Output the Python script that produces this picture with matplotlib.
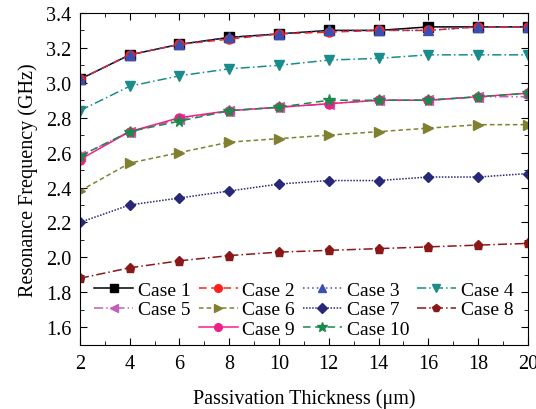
import matplotlib

matplotlib.use("Agg")
import matplotlib.pyplot as plt
from matplotlib.lines import Line2D
from matplotlib.ticker import MultipleLocator

thickness = [2, 4, 6, 8, 10, 12, 14, 16, 18, 20]

case1 = [3.02, 3.16, 3.22, 3.26, 3.28, 3.30, 3.30, 3.32, 3.32, 3.32]
case2 = [3.02, 3.16, 3.22, 3.25, 3.28, 3.29, 3.30, 3.30, 3.32, 3.32]
case3 = [3.02, 3.16, 3.22, 3.26, 3.28, 3.30, 3.30, 3.30, 3.32, 3.32]
case4 = [2.84, 2.98, 3.04, 3.08, 3.10, 3.13, 3.14, 3.16, 3.16, 3.16]
case5 = [2.58, 2.72, 2.79, 2.84, 2.86, 2.88, 2.90, 2.90, 2.92, 2.92]
case6 = [2.38, 2.54, 2.60, 2.66, 2.68, 2.70, 2.72, 2.74, 2.76, 2.76]
case7 = [2.20, 2.30, 2.34, 2.38, 2.42, 2.44, 2.44, 2.46, 2.46, 2.48]
case8 = [1.88, 1.94, 1.98, 2.01, 2.03, 2.04, 2.05, 2.06, 2.07, 2.08]
case9 = [2.56, 2.72, 2.80, 2.84, 2.86, 2.88, 2.90, 2.90, 2.92, 2.94]
case10 = [2.58, 2.72, 2.78, 2.84, 2.86, 2.90, 2.90, 2.90, 2.92, 2.94]

labels = ["Case %d" % i for i in range(1, 11)]
series = [case1, case2, case3, case4, case5, case6, case7, case8, case9, case10]

# style per case: colour, line style, marker
styles = [
    ("#000000", "-", "s"),
    ("#ff2020", (0, (5, 3)), "o"),
    ("#3a50b0", (0, (1, 2)), "^"),
    ("#1a8c8c", (0, (6, 2, 1, 2)), "v"),
    ("#c060b8", (0, (6, 2, 1, 2, 1, 2)), "<"),
    ("#808030", (0, (3, 2)), ">"),
    ("#282878", (0, (1, 1)), "D"),
    ("#8a1818", (0, (6, 2, 1, 2)), "p"),
    ("#f0208a", "-", "o"),
    ("#1a8a4a", (0, (5, 3)), "*"),
]

plt.rcParams["font.family"] = ["Liberation Serif", "DejaVu Serif"]

fig = plt.figure(figsize=(5.36, 4.10), dpi=100)
ax = fig.add_axes([0.149, 0.157, 0.836, 0.809])

handles = []
for vals, lab, (color, ls, mk) in zip(series, labels, styles):
    ms = 8.5 if mk == "*" else (5.5 if mk == "D" else 6.5)
    (h,) = ax.plot(thickness, vals, color=color, linestyle=ls, marker=mk,
                   markersize=ms, linewidth=1.1, label=lab)
    handles.append(h)

blank = Line2D([], [], linestyle="none", marker="none")
# column-major order so that Case 9 / Case 10 sit in the middle of the last row
order = [handles[0], handles[4], blank,
         handles[1], handles[5], handles[8],
         handles[2], handles[6], handles[9],
         handles[3], handles[7], blank]
names = [labels[0], labels[4], "",
         labels[1], labels[5], labels[8],
         labels[2], labels[6], labels[9],
         labels[3], labels[7], ""]
ax.legend(order, names, ncol=4, loc="lower center", bbox_to_anchor=(0.5, -0.015),
          frameon=False, fontsize=14, handlelength=2.0, handletextpad=0.25,
          columnspacing=0.4, labelspacing=0.1, borderaxespad=0.2, markerscale=0.85)

ax.set_xlim(2, 20)
ax.set_ylim(1.5, 3.4)
ax.xaxis.set_major_locator(MultipleLocator(2))
ax.xaxis.set_minor_locator(MultipleLocator(1))
ax.yaxis.set_minor_locator(MultipleLocator(0.1))
ax.set_yticks([1.6, 1.8, 2.0, 2.2, 2.4, 2.6, 2.8, 3.0, 3.2, 3.4])
ax.yaxis.set_major_formatter(plt.FormatStrFormatter("%.1f"))
ax.tick_params(which="both", direction="in", top=True, right=True, labelsize=14.5)
ax.tick_params(which="major", length=5)
ax.tick_params(which="minor", length=3)
ax.tick_params(axis="x", pad=7)
ax.tick_params(axis="y", pad=6)

ax.set_xlabel("Passivation Thickness (μm)", fontsize=14.5, labelpad=11)
ax.set_ylabel("Resonance Frequency (GHz)", fontsize=14.5, labelpad=6)

fig.savefig("out.png", dpi=100)
